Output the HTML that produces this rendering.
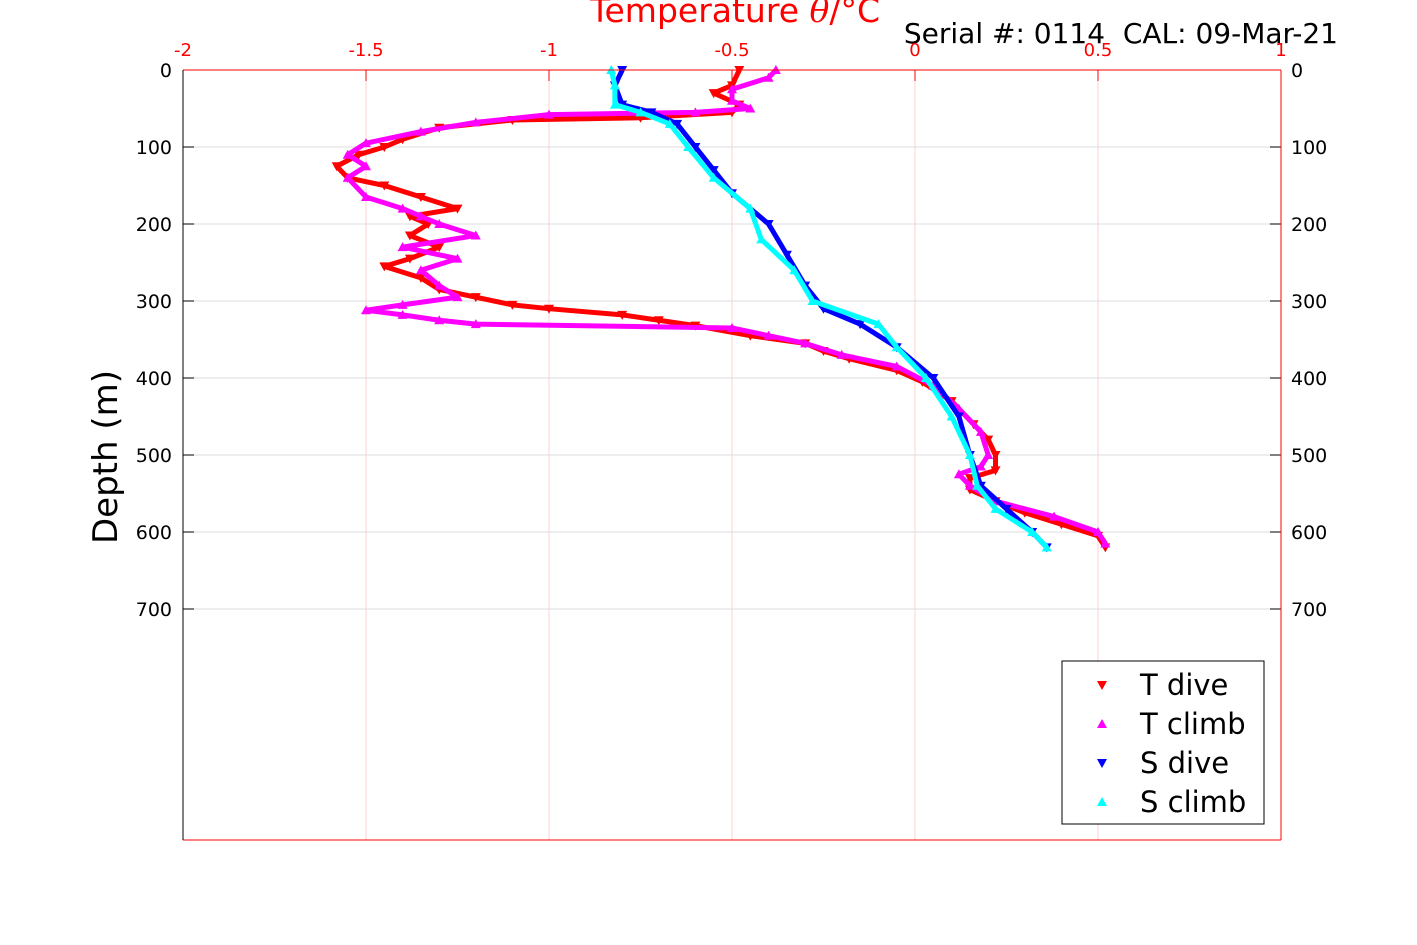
<!DOCTYPE html>
<html><head><meta charset="utf-8">
<style>
html,body{margin:0;padding:0;background:#fff;}
svg{display:block;font-family:"DejaVu Sans","Liberation Sans",sans-serif;}
</style></head>
<body>
<svg id="chart" width="1417" height="945" viewBox="0 0 1417 945" xmlns="http://www.w3.org/2000/svg">
<text x="735" y="22" font-size="33" fill="#ff0000" text-anchor="middle">Temperature <tspan font-style="italic" font-family="DejaVu Serif, serif">θ</tspan>/°C</text>
<text x="1338" y="43" font-size="28" fill="#000" text-anchor="end">Serial #: 0114&#160; CAL: 09-Mar-21</text>
<text transform="translate(117,457) rotate(-90)" font-size="34" fill="#000" text-anchor="middle">Depth (m)</text>
<g id="grid"></g>
<g id="series"></g>
<g id="axes"></g>
<g>
<rect x="1062" y="661" width="202" height="163" fill="#fff" stroke="#000" stroke-width="1"/>
<polygon points="1097,681 1107,681 1102,690" fill="#ff0000"/>
<text x="1140" y="695" font-size="29">T dive</text>
<polygon points="1097,728 1107,728 1102,719" fill="#ff00ff"/>
<text x="1140" y="734" font-size="29">T climb</text>
<polygon points="1097,759 1107,759 1102,768" fill="#0000ff"/>
<text x="1140" y="773" font-size="29">S dive</text>
<polygon points="1097,806 1107,806 1102,797" fill="#00ffff"/>
<text x="1140" y="812" font-size="29">S climb</text>
</g>
</svg>
<script>
const xTicks = [-2,-1.5,-1,-0.5,0,0.5,1];
const xTickLabels = ["-2","-1.5","-1","-0.5","0","0.5","1"];
const yTicks = [0,100,200,300,400,500,600,700];
const tDiveDepth = [0,20,30,45,55,62,65,75,90,100,110,125,140,150,165,180,190,200,215,230,245,255,270,285,295,305,310,318,325,332,345,355,365,375,390,405,430,460,480,500,520,530,545,560,575,590,605,620];
const tDiveTemp = [-0.48,-0.5,-0.55,-0.48,-0.5,-0.75,-1.1,-1.3,-1.4,-1.45,-1.52,-1.58,-1.55,-1.45,-1.35,-1.25,-1.38,-1.33,-1.38,-1.3,-1.38,-1.45,-1.35,-1.3,-1.2,-1.1,-1.0,-0.8,-0.7,-0.6,-0.45,-0.3,-0.25,-0.18,-0.05,0.02,0.1,0.16,0.2,0.22,0.22,0.15,0.15,0.22,0.3,0.4,0.5,0.52];
const tClimbDepth = [0,10,25,40,50,55,58,68,80,95,110,125,140,165,180,190,200,215,230,245,260,280,295,305,312,318,325,330,335,345,355,370,385,410,440,470,500,515,525,540,560,580,600,615];
const tClimbTemp = [-0.38,-0.4,-0.5,-0.5,-0.45,-0.6,-1.0,-1.2,-1.35,-1.5,-1.55,-1.5,-1.55,-1.5,-1.4,-1.35,-1.3,-1.2,-1.4,-1.25,-1.35,-1.3,-1.25,-1.4,-1.5,-1.4,-1.3,-1.2,-0.5,-0.4,-0.3,-0.2,-0.05,0.05,0.12,0.18,0.2,0.18,0.12,0.15,0.22,0.38,0.5,0.52];
const sDiveDepth = [0,20,45,55,70,100,130,160,200,240,280,310,330,360,400,450,500,540,570,600,620];
const sDiveVal = [-0.8,-0.82,-0.8,-0.72,-0.65,-0.6,-0.55,-0.5,-0.4,-0.35,-0.3,-0.25,-0.15,-0.05,0.05,0.12,0.15,0.18,0.25,0.32,0.36];
const sClimbDepth = [0,20,45,55,70,100,140,180,220,260,300,330,360,400,450,500,540,570,600,620];
const sClimbVal = [-0.83,-0.82,-0.82,-0.75,-0.67,-0.62,-0.55,-0.45,-0.42,-0.33,-0.28,-0.1,-0.05,0.03,0.1,0.15,0.17,0.22,0.32,0.36];

(function(){
const L=183,R=1281,T=70,B=840;
const xScale = v => L + (v+2)/3*(R-L);
const yScale = d => T + d/1000*(B-T);
const NS="http://www.w3.org/2000/svg";
function mk(tag, attrs, parent){const e=document.createElementNS(NS,tag);for(const k in attrs)e.setAttribute(k,attrs[k]);parent.appendChild(e);return e;}
const grid=document.getElementById('grid'), axes=document.getElementById('axes'), series=document.getElementById('series');

xTicks.forEach((v,i)=>{
  const x=xScale(v);
  if(i>0&&i<xTicks.length-1){
    const g=mk('line',{x1:x,x2:x,y1:T,y2:B,stroke:'#ffd0d0','stroke-width':1},grid);
    
    
  }
  const tk=mk('line',{x1:x,x2:x,y1:T,y2:T+11,stroke:'#ff0000','stroke-width':1},axes);
  
  
  const t=mk('text',{x:x,y:56,'font-size':18,fill:'#ff0000','text-anchor':'middle'},axes);
  t.textContent=xTickLabels[i];
  
  
});
yTicks.forEach(d=>{
  const y=yScale(d);
  if(d>0){
    const g=mk('line',{x1:L,x2:R,y1:y,y2:y,stroke:'#dcdcdc','stroke-width':1},grid);
    
    
  }
  const a=mk('text',{x:172,y:y+7,'font-size':19,fill:'#000','text-anchor':'end'},axes);
  a.textContent=d;
  
  
  const b=mk('text',{x:1291,y:y+7,'font-size':19,fill:'#000','text-anchor':'start'},axes);
  b.textContent=d;
  
  
  const t1=mk('line',{x1:L,x2:L+11,y1:y,y2:y,stroke:'#000'},axes);
  
  
  const t2=mk('line',{x1:R-11,x2:R,y1:y,y2:y,stroke:'#000'},axes);
  
  
});
const axTop=mk('line',{x1:L,x2:R,y1:T,y2:T,stroke:'#ff0000'},axes);


const axBot=mk('line',{x1:L,x2:R,y1:B,y2:B,stroke:'#ff0000'},axes);


const axLeft=mk('line',{x1:L,x2:L,y1:T,y2:B,stroke:'#000'},axes);


const axRight=mk('line',{x1:R,x2:R,y1:T,y2:B,stroke:'#ff0000'},axes);



function drawSeries(depths, vals, color, down, name){
  const g=mk('g',{},series);
  
  
  const pts=depths.map((d,i)=>xScale(vals[i])+','+yScale(d)).join(' ');
  const pl=mk('polyline',{points:pts,fill:'none',stroke:color,'stroke-width':5,'stroke-linejoin':'round'},g);
  
  
  depths.forEach((d,i)=>{
    const x=xScale(vals[i]), y=yScale(d);
    const p = down ? `${x-5},${y-4} ${x+5},${y-4} ${x},${y+5}` : `${x-5},${y+4} ${x+5},${y+4} ${x},${y-5}`;
    const m=mk('polygon',{points:p,fill:color},g);
    
    
  });
}
drawSeries(tDiveDepth,tDiveTemp,'#ff0000',true,'t-dive-series');
drawSeries(tClimbDepth,tClimbTemp,'#ff00ff',false,'t-climb-series');
drawSeries(sDiveDepth,sDiveVal,'#0000ff',true,'s-dive-series');
drawSeries(sClimbDepth,sClimbVal,'#00ffff',false,'s-climb-series');
})();
</script>
</body></html>
